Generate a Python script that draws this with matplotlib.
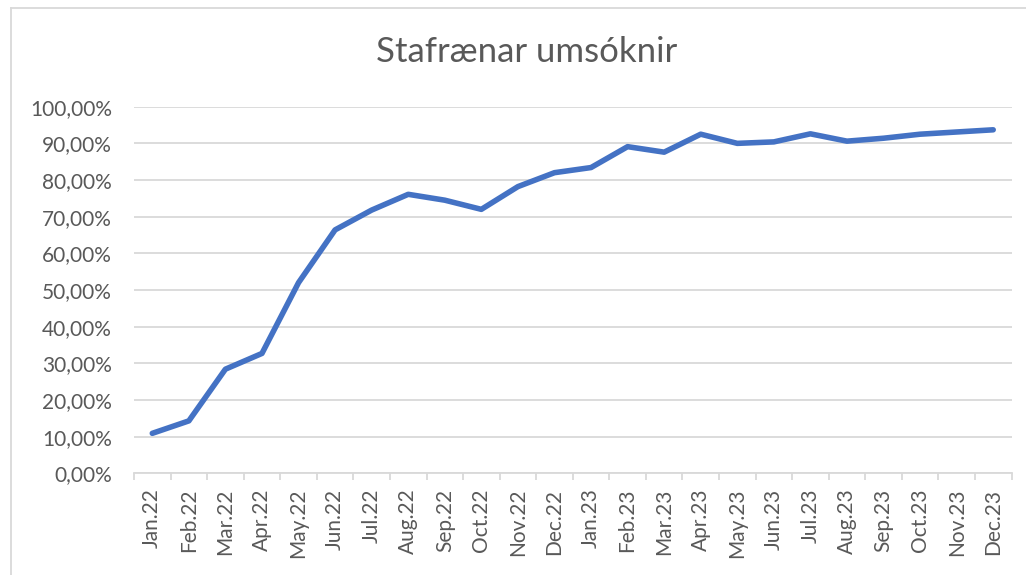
import matplotlib
matplotlib.use("Agg")
from matplotlib import pyplot as plt
from matplotlib.ticker import FuncFormatter, FixedLocator
from matplotlib.lines import Line2D

# Data
months = ["Jan.22", "Feb.22", "Mar.22", "Apr.22", "May.22", "Jun.22",
          "Jul.22", "Aug.22", "Sep.22", "Oct.22", "Nov.22", "Dec.22",
          "Jan.23", "Feb.23", "Mar.23", "Apr.23", "May.23", "Jun.23",
          "Jul.23", "Aug.23", "Sep.23", "Oct.23", "Nov.23", "Dec.23"]
share = [0.109, 0.143, 0.284, 0.327, 0.520, 0.664, 0.718, 0.761, 0.745, 0.720,
         0.782, 0.820, 0.834, 0.891, 0.876, 0.925, 0.900, 0.904, 0.926, 0.906,
         0.914, 0.925, 0.931, 0.937]
y_ticks = [i / 10 for i in range(11)]

text_col = "#595959"
grid_col = "#D9D9D9"

plt.rcParams["font.family"] = ["Lato", "DejaVu Sans"]

W, H = 1026, 575
fig = plt.figure(figsize=(W / 100, H / 100), dpi=100)
ax = fig.add_axes([134 / W, 1 - 473.3 / H, (1011.5 - 134) / W, (473.3 - 106.7) / H])

x = list(range(len(months)))
ax.plot(x, share, color="#4472C4", linewidth=4, solid_capstyle="round",
        solid_joinstyle="round", zorder=3)

ax.set_xlim(-0.5, len(months) - 0.5)
ax.set_ylim(0, 1)

# y axis
ax.yaxis.set_major_locator(FixedLocator(y_ticks))
ax.yaxis.set_major_formatter(FuncFormatter(lambda v, p: ("%.2f%%" % (v * 100)).replace(".", ",")))
ax.grid(axis="y", color=grid_col, linewidth=1.3, zorder=0)
ax.tick_params(axis="y", length=0, pad=16, labelsize=15, labelcolor=text_col)

# x axis: labels at the points, ticks at the category borders
ax.set_xticks(x)
ax.set_xticklabels(months, rotation=90)
ax.set_xticks([i - 0.5 for i in range(len(months) + 1)], minor=True)
ax.tick_params(axis="x", which="major", length=0, pad=11, labelsize=15, labelcolor=text_col)
ax.tick_params(axis="x", which="minor", length=5, width=1.3, color=grid_col, direction="out")

for s in ["top", "right", "left"]:
    ax.spines[s].set_visible(False)
ax.spines["bottom"].set_color(grid_col)
ax.spines["bottom"].set_linewidth(1.3)

fig.text(527 / W, 1 - 52 / H, "Stafrænar umsóknir", ha="center", va="center",
         fontsize=25, color=text_col)

# chart frame (top and left edge visible)
fig.add_artist(Line2D([11 / W, 1], [1 - 8 / H, 1 - 8 / H], color=grid_col, linewidth=1.3))
fig.add_artist(Line2D([11 / W, 11 / W], [0, 1 - 8 / H], color=grid_col, linewidth=1.3))

fig.savefig("out.png", dpi=100, facecolor="white")
